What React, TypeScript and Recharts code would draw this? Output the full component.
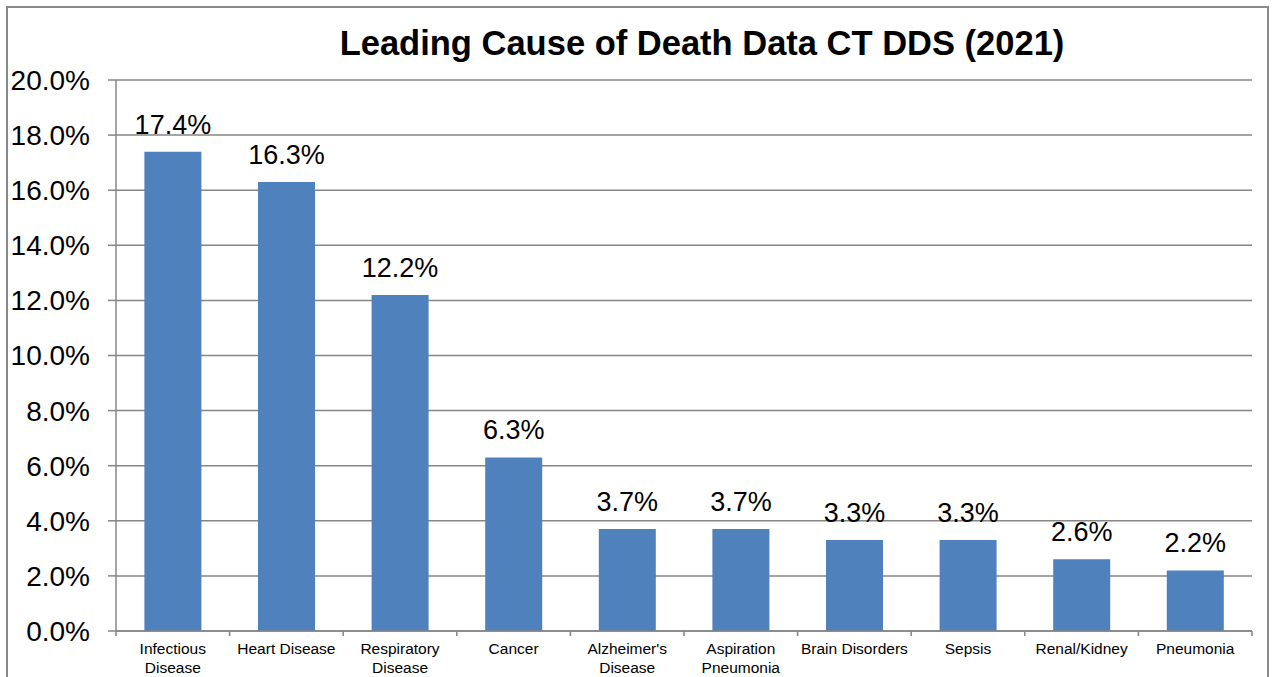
import React from 'react';
import { BarChart, Bar, XAxis, YAxis, CartesianGrid, LabelList, Text } from 'recharts';

const TITLE = 'Leading Cause of Death Data CT DDS (2021)';
const categories = [
  'Infectious Disease',
  'Heart Disease',
  'Respiratory Disease',
  'Cancer',
  "Alzheimer's Disease",
  'Aspiration Pneumonia',
  'Brain Disorders',
  'Sepsis',
  'Renal/Kidney',
  'Pneumonia',
];
const values = [17.4, 16.3, 12.2, 6.3, 3.7, 3.7, 3.3, 3.3, 2.6, 2.2];
const yTicks = [0, 2, 4, 6, 8, 10, 12, 14, 16, 18, 20];

const data = categories.map((name, i) => ({ name, value: values[i] }));

const W = 1274;
const H = 677;
const MARGIN = { top: 80, right: 22, bottom: 0, left: 0 };
const Y_W = 116;
const X_H = 46;
const AXIS_Y = H - MARGIN.bottom - X_H;
const PLOT_W = W - MARGIN.left - MARGIN.right - Y_W;
const BAND = PLOT_W / categories.length;
const GRAY = '#868686';
const FONT = 'Arial, "Liberation Sans", sans-serif';

const fmt = (v: number) => v.toFixed(1) + '%';

const XTick = (props: any) => {
  const { x, payload, index } = props;
  const isLast = index === categories.length - 1;
  return (
    <g>
      <line x1={x - BAND / 2} y1={AXIS_Y} x2={x - BAND / 2} y2={AXIS_Y + 5} stroke={GRAY} strokeWidth={1.5} />
      {isLast && (
        <line x1={x + BAND / 2} y1={AXIS_Y} x2={x + BAND / 2} y2={AXIS_Y + 5} stroke={GRAY} strokeWidth={1.5} />
      )}
      <Text
        x={x}
        y={AXIS_Y + 11.5}
        width={110}
        textAnchor="middle"
        verticalAnchor="start"
        fontSize={15.5}
        lineHeight={19}
        fill="#000"
        fontFamily={FONT}
      >
        {payload.value}
      </Text>
    </g>
  );
};

export default function App() {
  return (
    <div style={{ position: 'absolute', left: 0, top: 0, width: W, height: H, overflow: 'hidden', background: '#fff' }}>
      <div
        style={{
          position: 'absolute',
          left: 6,
          top: 6,
          width: 1263,
          height: 740,
          border: '2px solid #8a8a8a',
          boxSizing: 'border-box',
        }}
      />
      <div
        style={{
          position: 'absolute',
          left: 702 - 500,
          top: 23,
          width: 1000,
          textAlign: 'center',
          fontFamily: FONT,
          fontWeight: 'bold',
          fontSize: 34.5,
          lineHeight: '40px',
          color: '#000',
          whiteSpace: 'nowrap',
        }}
      >
        {TITLE}
      </div>
      <div style={{ position: 'absolute', left: 0, top: 0 }}>
        <BarChart width={W} height={H} data={data} margin={MARGIN} barCategoryGap="25%">
          <CartesianGrid vertical={false} stroke={GRAY} strokeWidth={1.5} />
          <XAxis
            dataKey="name"
            interval={0}
            height={X_H}
            tickLine={false}
            axisLine={{ stroke: GRAY, strokeWidth: 1.5 }}
            tick={<XTick />}
          />
          <YAxis
            width={Y_W}
            domain={[0, 20]}
            ticks={yTicks}
            tickFormatter={fmt}
            tickSize={8}
            tickMargin={18}
            axisLine={{ stroke: GRAY, strokeWidth: 1.5 }}
            tickLine={{ stroke: GRAY, strokeWidth: 1.5 }}
            tick={{ fontSize: 28, fill: '#000', fontFamily: FONT }}
          />
          <Bar dataKey="value" fill="#4F81BD" isAnimationActive={false}>
            <LabelList
              dataKey="value"
              position="top"
              offset={18}
              formatter={(v: any) => fmt(Number(v))}
              style={{ fontSize: 27, fill: '#000', fontFamily: FONT }}
            />
          </Bar>
        </BarChart>
      </div>
    </div>
  );
}
